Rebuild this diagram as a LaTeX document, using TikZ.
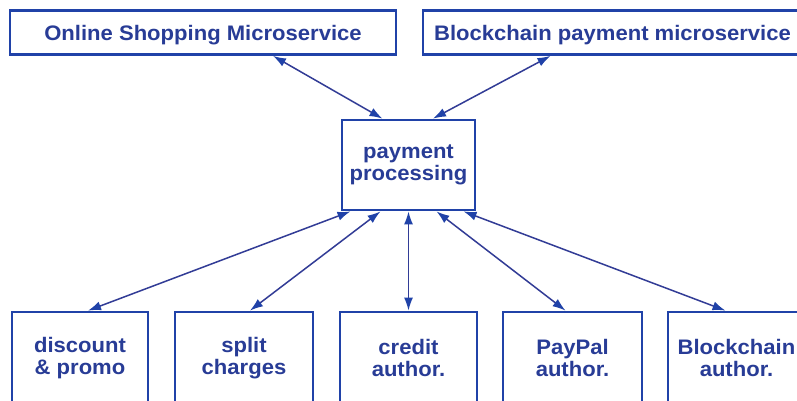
\documentclass[tikz,border=0pt]{standalone}
\usepackage{fontspec}
\setmainfont{Liberation Sans}[FakeStretch=1.05]
\usetikzlibrary{arrows.meta}
\definecolor{boxblue}{RGB}{32,66,168}
\definecolor{textblue}{RGB}{40,60,150}
\definecolor{lineblue}{RGB}{50,60,150}
\tikzset{every picture/.style={line width=0.75pt}}

\begin{document}
\begin{tikzpicture}[x=1pt,y=1pt,yscale=-1,xscale=1,
    svcbox/.style={draw=boxblue,line width=2.8pt,fill=white,inner sep=0pt,
      text=textblue,font=\fontsize{21}{22}\selectfont\bfseries,align=center},
    topbox/.style={svcbox,minimum height=44,text height=16,text depth=0},
    link/.style={draw=lineblue,line width=1.5pt,
      {Latex[length=13pt,width=9pt,color=boxblue]}-{Latex[length=13pt,width=9pt,color=boxblue]}}]
    \clip (0,0) rectangle (797,400);
    \fill[white] (0,0) rectangle (797,400);

    %Shape: Rectangle [top row]
    \node [topbox,minimum width=386] (online) at (203,32.5) {Online Shopping Microservice};
    \node [topbox,minimum width=379] (chainpay) at (612.5,32.5) {Blockchain payment microservice};
    %Shape: Rectangle [middle]
    \node [svcbox,minimum width=133,minimum height=90] (pay) at (408.5,165) {payment\\processing};
    %Shape: Rectangle [bottom row]
    \node [svcbox,minimum width=136,minimum height=92] (disc) at (80,358) {discount\\\& promo};
    \node [svcbox,minimum width=138,minimum height=92] (split) at (244,358) {split\\charges};
    \node [svcbox,minimum width=137,minimum height=92] (credit) at (408.5,358) {credit\\author.};
    \node [svcbox,minimum width=139,minimum height=92] (paypal) at (572.5,358) {PayPal\\author.};
    \node [svcbox,minimum width=137,minimum height=92] (chainauth) at (736.5,358) {Blockchain\\author.};

    %Straight Lines [top]
    \draw [link] ([xshift=70]online.south) -- ([xshift=-26]pay.north);
    \draw [link] ([xshift=-62]chainpay.south) -- ([xshift=24.5]pay.north);
    %Straight Lines [bottom]
    \draw [link] ([xshift=-58]pay.south) -- ([xshift=8]disc.north);
    \draw [link] ([xshift=-28]pay.south) -- ([xshift=6]split.north);
    \draw [link] (pay.south) -- (credit.north);
    \draw [link] ([xshift=28]pay.south) -- ([xshift=-7]paypal.north);
    \draw [link] ([xshift=55]pay.south) -- ([xshift=-11]chainauth.north);

  \end{tikzpicture}
\end{document}
